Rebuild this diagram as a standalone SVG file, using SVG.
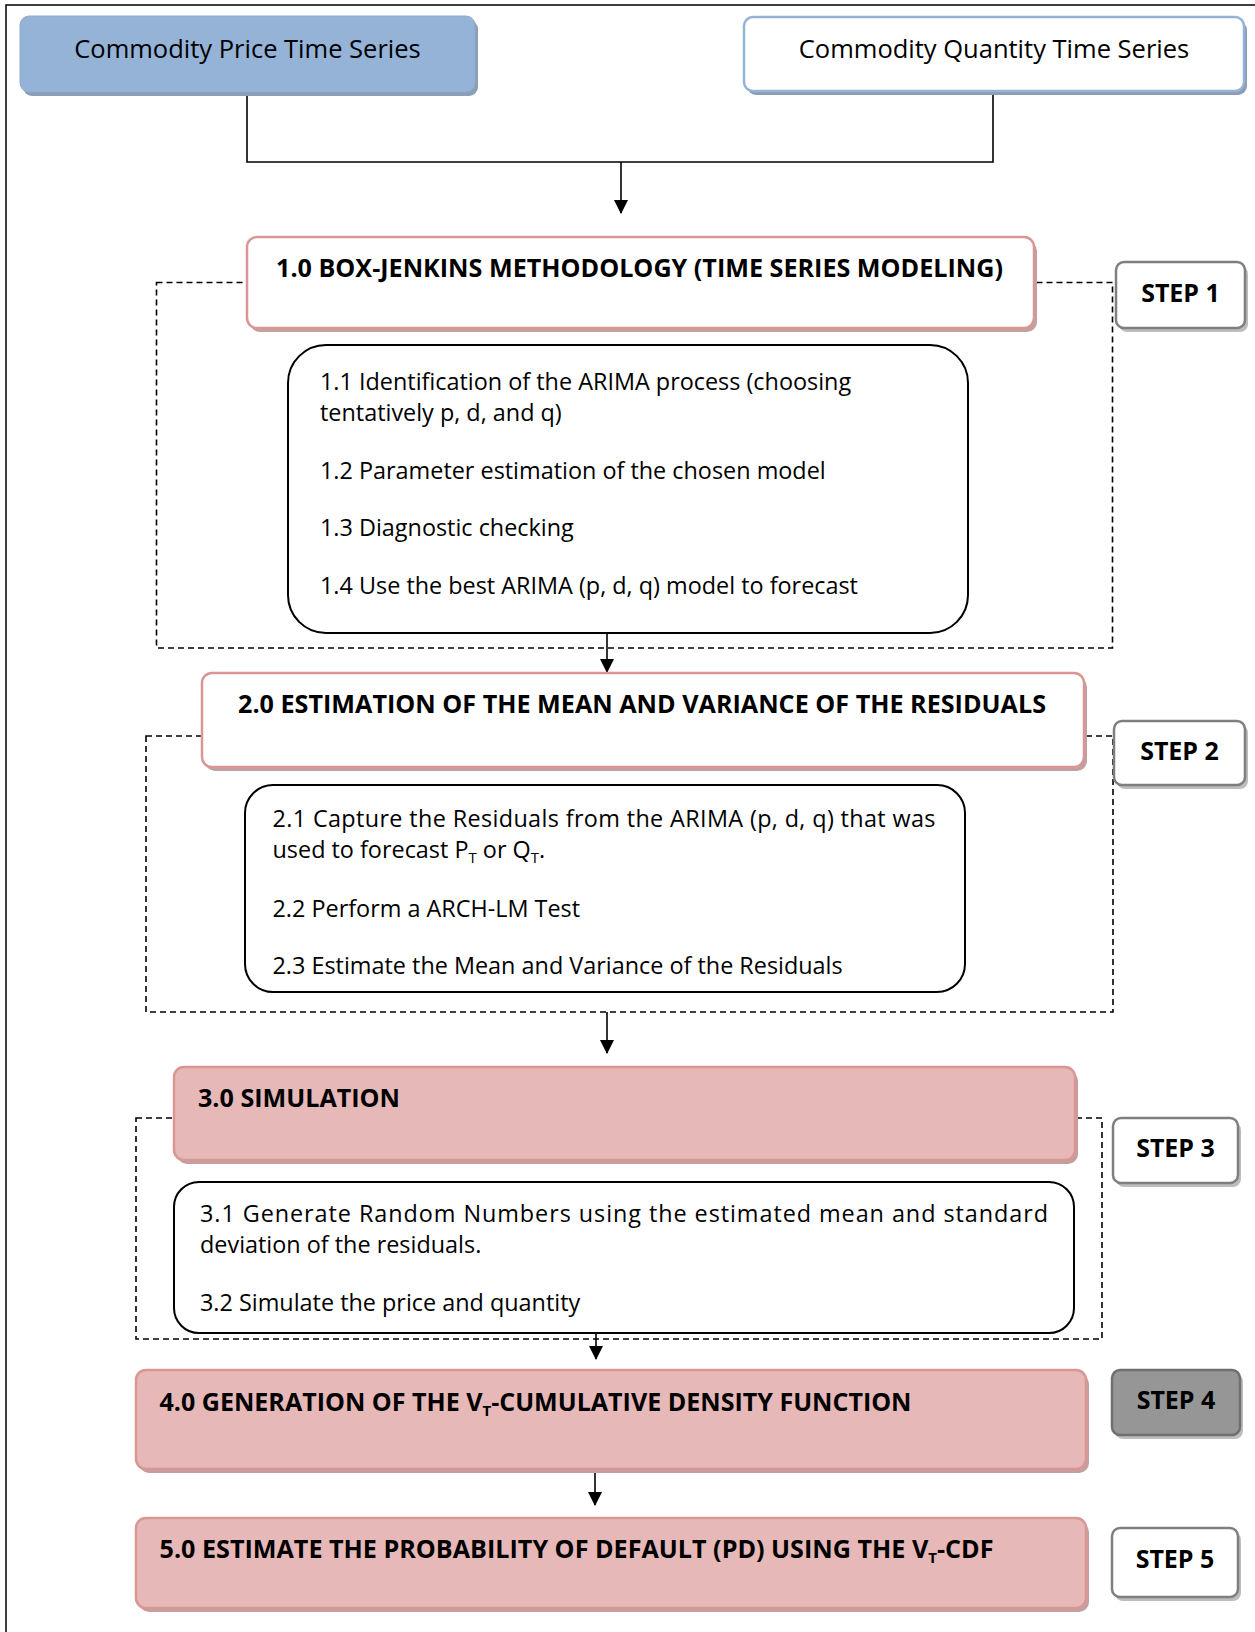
<svg xmlns="http://www.w3.org/2000/svg" width="1255" height="1632" viewBox="0 0 1255 1632">
  <defs>
    <marker id="arrow" markerUnits="userSpaceOnUse" markerWidth="14" markerHeight="16" refX="13" refY="7" orient="auto">
      <path d="M0,0 L14,7 L0,14 Z" fill="#000"/>
    </marker>
    <style>
      .frame { fill: none; stroke: #000; stroke-width: 1.5; }
      .dash { fill: none; stroke: #000; stroke-width: 1.6; stroke-dasharray: 6 4; }
      .conn { fill: none; stroke: #000; stroke-width: 1.6; }
      .shadow-blue { fill: #8d9db4; }
      .shadow-pink { fill: #c2a0a0; }
      .shadow-grey { fill: #bdbdbd; }
      .price { fill: #95b3d7; stroke: #8eaad0; stroke-width: 1; }
      .qty { fill: #fff; stroke: #95b3d7; stroke-width: 2.5; }
      .head-white { fill: #fff; stroke: #d99694; stroke-width: 2.5; }
      .head-pink { fill: #e6b8b7; stroke: #d99694; stroke-width: 2.5; }
      .inner { fill: #fff; stroke: #000; stroke-width: 2; }
      .step { fill: #fff; stroke: #7f7f7f; stroke-width: 2.5; }
      .step-dark { fill: #969696; stroke: #6f6f6f; stroke-width: 2.5; }
      text { font-family: "Open Sans", "Noto Sans", sans-serif; fill: #000; }
      .src { font-size: 25.5px; text-anchor: middle; }
      .title { font-size: 25px; font-weight: bold; }
      .steptxt { font-size: 25px; font-weight: bold; text-anchor: middle; }
      .item { font-size: 23.4px; }
      .sub { font-size: 15px; }
    </style>
  </defs>

  <!-- outer frame (top and left edges) -->
  <path class="frame" d="M6,1632 V5 H1255"/>

  <!-- dashed step groupings -->
  <g id="group-step1"><rect class="dash" x="156.5" y="282.5" width="956" height="365.5"/></g>
  <g id="group-step2"><rect class="dash" x="146" y="736" width="967" height="276"/></g>
  <g id="group-step3"><rect class="dash" x="136" y="1118" width="966" height="221"/></g>

  <!-- connectors -->
  <g id="connectors">
    <path class="conn" d="M247,92 V162 H993 V91"/>
    <line class="conn" x1="621" y1="162" x2="621" y2="213" marker-end="url(#arrow)"/>
    <line class="conn" x1="607" y1="633" x2="607" y2="672" marker-end="url(#arrow)"/>
    <line class="conn" x1="607" y1="1012" x2="607" y2="1053" marker-end="url(#arrow)"/>
    <line class="conn" x1="596" y1="1333" x2="596" y2="1359" marker-end="url(#arrow)"/>
    <line class="conn" x1="595" y1="1472" x2="595" y2="1505" marker-end="url(#arrow)"/>
  </g>

  <!-- input series -->
  <g id="price-series">
    <rect class="shadow-blue" x="23" y="20" width="455" height="76" rx="9"/>
    <rect class="price" x="20" y="16" width="455" height="76" rx="9"/>
    <text class="src" x="247.5" y="58">Commodity Price Time Series</text>
  </g>
  <g id="quantity-series">
    <rect class="shadow-blue" x="747" y="21" width="500" height="74" rx="9"/>
    <rect class="qty" x="744" y="17" width="500" height="74" rx="9"/>
    <text class="src" x="994" y="58">Commodity Quantity Time Series</text>
  </g>

  <!-- step 1 -->
  <g id="box-1-0">
    <rect class="shadow-pink" x="250" y="241" width="787" height="91" rx="10"/>
    <rect class="head-white" x="247" y="237" width="787" height="91" rx="10"/>
    <text class="title" x="276" y="277" textLength="727" lengthAdjust="spacingAndGlyphs">1.0 BOX-JENKINS METHODOLOGY (TIME SERIES MODELING)</text>
  </g>
  <g id="step-1">
    <rect class="shadow-grey" x="1119" y="266" width="129" height="66" rx="8"/>
    <rect class="step" x="1116" y="262" width="129" height="66" rx="8"/>
    <text class="steptxt" x="1180.5" y="302">STEP 1</text>
  </g>
  <g id="box-1-items">
    <rect class="inner" x="288" y="345" width="680" height="288" rx="38"/>
    <text class="item" x="320" y="390">1.1 Identification of the ARIMA process (choosing</text>
    <text class="item" x="320" y="421">tentatively p, d, and q)</text>
    <text class="item" x="320" y="479">1.2 Parameter estimation of the chosen model</text>
    <text class="item" x="320" y="536">1.3 Diagnostic checking</text>
    <text class="item" x="320" y="594">1.4 Use the best ARIMA (p, d, q) model to forecast</text>
  </g>

  <!-- step 2 -->
  <g id="box-2-0">
    <rect class="shadow-pink" x="205" y="677" width="882" height="94" rx="10"/>
    <rect class="head-white" x="202" y="673" width="882" height="94" rx="10"/>
    <text class="title" x="238" y="713" textLength="808" lengthAdjust="spacingAndGlyphs">2.0 ESTIMATION OF THE MEAN AND VARIANCE OF THE RESIDUALS</text>
  </g>
  <g id="step-2">
    <rect class="shadow-grey" x="1117" y="725" width="131" height="64" rx="8"/>
    <rect class="step" x="1114" y="721" width="131" height="64" rx="8"/>
    <text class="steptxt" x="1179.5" y="760">STEP 2</text>
  </g>
  <g id="box-2-items">
    <rect class="inner" x="245" y="785" width="720" height="207" rx="28"/>
    <text class="item" x="272.5" y="827" textLength="663" lengthAdjust="spacing">2.1 Capture the Residuals from the ARIMA (p, d, q) that was</text>
    <text class="item" x="272.5" y="858">used to forecast P<tspan class="sub" dy="5">T</tspan><tspan dy="-5"> or Q</tspan><tspan class="sub" dy="5">T</tspan><tspan dy="-5">.</tspan></text>
    <text class="item" x="272.5" y="917">2.2 Perform a ARCH-LM Test</text>
    <text class="item" x="272.5" y="974">2.3 Estimate the Mean and Variance of the Residuals</text>
  </g>

  <!-- step 3 -->
  <g id="box-3-0">
    <rect class="shadow-pink" x="177" y="1071" width="901" height="93" rx="10"/>
    <rect class="head-pink" x="174" y="1067" width="901" height="93" rx="10"/>
    <text class="title" x="198" y="1107" textLength="202" lengthAdjust="spacingAndGlyphs">3.0 SIMULATION</text>
  </g>
  <g id="step-3">
    <rect class="shadow-grey" x="1116" y="1122" width="125" height="65" rx="8"/>
    <rect class="step" x="1113" y="1118" width="125" height="65" rx="8"/>
    <text class="steptxt" x="1175.5" y="1157">STEP 3</text>
  </g>
  <g id="box-3-items">
    <rect class="inner" x="174" y="1182" width="900" height="151" rx="25"/>
    <text class="item" x="200" y="1222" textLength="848" lengthAdjust="spacing">3.1 Generate Random Numbers using the estimated mean and standard</text>
    <text class="item" x="200" y="1253">deviation of the residuals.</text>
    <text class="item" x="200" y="1311">3.2 Simulate the price and quantity</text>
  </g>

  <!-- step 4 -->
  <g id="box-4-0">
    <rect class="shadow-pink" x="139" y="1374" width="950" height="99" rx="10"/>
    <rect class="head-pink" x="136" y="1370" width="950" height="99" rx="10"/>
    <text class="title" x="159.5" y="1411" textLength="752" lengthAdjust="spacingAndGlyphs">4.0 GENERATION OF THE V<tspan class="sub" dy="5">T</tspan><tspan dy="-5">-CUMULATIVE DENSITY FUNCTION</tspan></text>
  </g>
  <g id="step-4">
    <rect class="shadow-grey" x="1115" y="1374" width="128" height="65" rx="8"/>
    <rect class="step-dark" x="1112" y="1370" width="128" height="65" rx="8"/>
    <text class="steptxt" x="1176" y="1409">STEP 4</text>
  </g>

  <!-- step 5 -->
  <g id="box-5-0">
    <rect class="shadow-pink" x="139" y="1522" width="950" height="90" rx="10"/>
    <rect class="head-pink" x="136" y="1518" width="950" height="90" rx="10"/>
    <text class="title" x="159.5" y="1558" textLength="834" lengthAdjust="spacingAndGlyphs">5.0 ESTIMATE THE PROBABILITY OF DEFAULT (PD) USING THE V<tspan class="sub" dy="5">T</tspan><tspan dy="-5">-CDF</tspan></text>
  </g>
  <g id="step-5">
    <rect class="shadow-grey" x="1115" y="1532" width="126" height="69" rx="8"/>
    <rect class="step" x="1112" y="1528" width="126" height="69" rx="8"/>
    <text class="steptxt" x="1175" y="1568">STEP 5</text>
  </g>
</svg>
